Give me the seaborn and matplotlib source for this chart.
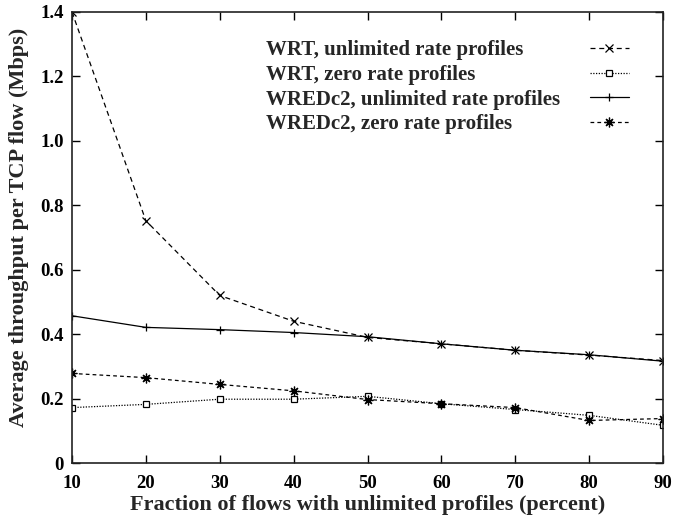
import matplotlib
matplotlib.use("Agg")
import matplotlib.pyplot as plt
from matplotlib.lines import Line2D
import seaborn as sns
import pandas as pd

# Fraction of flows with unlimited profiles (percent)
fractions = [10, 20, 30, 40, 50, 60, 70, 80, 90]

# Average throughput per TCP flow (Mbps)
wrt_unlimited = [1.40, 0.752, 0.520, 0.440, 0.390, 0.370, 0.350, 0.335, 0.318]
wrt_zero = [0.172, 0.182, 0.198, 0.198, 0.207, 0.184, 0.166, 0.148, 0.117]
wredc2_unlimited = [0.457, 0.421, 0.414, 0.405, 0.392, 0.370, 0.350, 0.336, 0.316]
wredc2_zero = [0.278, 0.265, 0.244, 0.224, 0.197, 0.184, 0.172, 0.132, 0.138]

series_labels = [
    "WRT, unlimited rate profiles",
    "WRT, zero rate profiles",
    "WREDc2, unlimited rate profiles",
    "WREDc2, zero rate profiles",
]
x_ticks = [10, 20, 30, 40, 50, 60, 70, 80, 90]
y_ticks = [0, 0.2, 0.4, 0.6, 0.8, 1.0, 1.2, 1.4]
y_tick_labels = ["0", "0.2", "0.4", "0.6", "0.8", "1.0", "1.2", "1.4"]

sns.set_style("ticks")
plt.rcParams["font.family"] = ["Liberation Serif", "DejaVu Serif"]
plt.rcParams["font.weight"] = "bold"

W, H = 673, 521
fig = plt.figure(figsize=(W / 100, H / 100), dpi=100)
ax = fig.add_axes([72 / W, 58 / H, 591 / W, 451 / H])

styles = [
    dict(linestyle=(0, (4, 3)), marker="x", markersize=6, markerfacecolor="none"),
    dict(linestyle=(0, (1, 1.2)), marker="s", markersize=5, markerfacecolor="white"),
    dict(linestyle="-", marker="+", markersize=6),
    dict(linestyle=(0, (3, 2.5)), marker=(8, 2, 0), markersize=7),
]
all_values = [wrt_unlimited, wrt_zero, wredc2_unlimited, wredc2_zero]

for label, values, st in zip(series_labels, all_values, styles):
    df = pd.DataFrame({"fraction": fractions, "throughput": values})
    sns.lineplot(
        data=df, x="fraction", y="throughput", ax=ax, color="black",
        linewidth=0.9, markeredgewidth=0.9, markeredgecolor="black",
        label=label, legend=False, **st,
    )

ax.set_xlim(10, 90)
ax.set_ylim(0, 1.4)
ax.set_xticks(x_ticks)
ax.set_xticklabels([str(t) for t in x_ticks])
ax.set_yticks(y_ticks)
ax.set_yticklabels(y_tick_labels)
ax.tick_params(direction="in", length=6, width=1, top=True, right=True,
               labelsize=13.5, colors="black")
ax.tick_params(axis="x", pad=9)
ax.tick_params(axis="y", pad=6)
for lab in ax.get_xticklabels() + ax.get_yticklabels():
    lab.set_fontweight("bold")
for sp in ax.spines.values():
    sp.set_visible(True)
    sp.set_linewidth(1.2)
    sp.set_color("#222222")

ax.set_xlabel("Fraction of flows with unlimited profiles (percent)",
              fontsize=16, fontweight="bold", labelpad=2)
ax.set_ylabel("Average throughput per TCP flow (Mbps)",
              fontsize=16, fontweight="bold")
ax.yaxis.set_label_coords(-0.072, 0.522)

# Key: labels left-aligned in one column, line samples in a column to the right
legend_fs = 15
spacing = 0.23
top = 1 - 40 / H
line_handles = [
    Line2D([], [], color="black", linewidth=0.9, markeredgewidth=0.9,
           markeredgecolor="black", **st)
    for st in styles
]
blank_handles = [Line2D([], [], linestyle="none") for _ in series_labels]

text_leg = ax.legend(blank_handles, series_labels, loc="upper left",
                     bbox_to_anchor=(266 / W, top),
                     bbox_transform=fig.transFigure, frameon=False,
                     fontsize=legend_fs, handlelength=0, handletextpad=0,
                     borderpad=0, borderaxespad=0, labelspacing=spacing)
for t in text_leg.get_texts():
    t.set_fontweight("bold")
ax.add_artist(text_leg)

ax.legend(line_handles, [" "] * len(line_handles), loc="upper left",
          bbox_to_anchor=(590 / W, top),
          bbox_transform=fig.transFigure, frameon=False,
          fontsize=legend_fs, handlelength=1.85, handletextpad=0,
          borderpad=0, borderaxespad=0, labelspacing=spacing)

fig.savefig("out.png", dpi=100)
